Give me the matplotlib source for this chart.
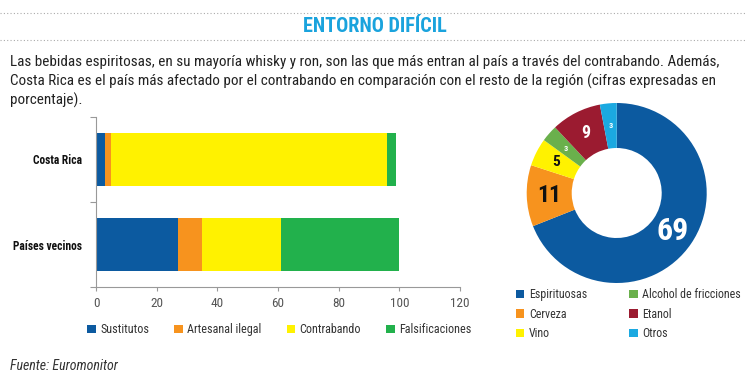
import matplotlib
matplotlib.use("Agg")
import numpy as np
import matplotlib.pyplot as plt
from matplotlib.patches import Patch
from matplotlib.lines import Line2D

W, H = 745, 388
NARROW = ['Roboto Condensed', 'Archivo Narrow', 'DejaVu Sans']

# bar chart data (percent)
countries = ["Costa Rica", "Países vecinos"]
bar_series = ["Sustitutos", "Artesanal ilegal", "Contrabando", "Falsificaciones"]
sustitutos = [3, 27]
artesanal = [2, 8]
contrabando = [91, 26]
falsificaciones = [3, 39]
bar_colors = ["#0c5aa0", "#f7931e", "#fff200", "#22b14c"]
x_ticks = [0, 20, 40, 60, 80, 100, 120]

# donut data (percent)
drink_types = ["Espirituosas", "Cerveza", "Vino", "Alcohol de fricciones", "Etanol", "Otros"]
drink_share = [69, 11, 5, 3, 9, 3]
pie_colors = ["#0c5aa0", "#f7931e", "#fff200", "#6ab04c", "#9b1b30", "#1ba9e1"]
label_colors = ["white", "#111111", "#111111", "white", "white", "white"]
label_sizes = [23, 17, 11, 6, 13, 6]

title = "ENTORNO DIFÍCIL"
intro = [
    "Las bebidas espiritosas, en su mayoría whisky y ron, son las que más entran al país a través del contrabando. Además,",
    "Costa Rica es el país más afectado por el contrabando en comparación con el resto de la región (cifras expresadas en",
    "porcentaje).",
]
source = "Fuente: Euromonitor"


def px(x, y):
    # pixel position (from top-left) -> figure fraction
    return x / W, 1 - y / H


def box(left, top, right, bottom):
    return [left / W, 1 - bottom / H, (right - left) / W, (bottom - top) / H]


plt.rcParams['font.family'] = NARROW
fig = plt.figure(figsize=(W / 100, H / 100), dpi=100)

# header: dotted rules and title
for yy in (13, 40):
    fig.add_artist(Line2D([0.0, 1.0], [1 - yy / H] * 2, transform=fig.transFigure,
                          color="#aaaaaa", lw=0.8, linestyle=(0, (1, 2))))
fig.text(*px(375, 26), title, ha="center", va="center", fontsize=14.6,
         fontweight="bold", color="#1aa3dd")

for i, line in enumerate(intro):
    fig.text(*px(10, 66 + i * 19.5), line, ha="left", va="baseline", fontsize=10.9, color="#222222")

fig.text(*px(10, 366), source, ha="left", va="center", fontsize=10, style="italic", color="#333333")

# stacked bars
ax = fig.add_axes(box(96, 117, 460, 287))
left = [0, 0]
handles = []
for name, vals, col in zip(bar_series, [sustitutos, artesanal, contrabando, falsificaciones], bar_colors):
    ax.barh(range(len(countries)), vals, left=left, height=0.63, color=col, label=name)
    left = [a + b for a, b in zip(left, vals)]
    handles.append(Patch(facecolor=col, label=name))
ax.set_xlim(0, 120)
ax.set_ylim(1.5, -0.5)
ax.set_xticks(x_ticks)
ax.set_yticks([-0.5, 0.5, 1.5])
ax.set_yticklabels([])
ax.set_yticks([0, 1], minor=True)
ax.set_yticklabels(countries, minor=True, fontweight="bold", fontsize=8.3, color="#111111")
ax.tick_params(axis="y", which="minor", length=0, pad=10)
ax.tick_params(axis="y", which="major", length=4, color="#999999")
ax.tick_params(axis="x", length=3, color="#999999", labelcolor="#555555", labelsize=9.5, pad=4)
for s in ("top", "right"):
    ax.spines[s].set_visible(False)
for s in ("left", "bottom"):
    ax.spines[s].set_color("#999999")
    ax.spines[s].set_linewidth(0.8)

ax.legend(handles=handles, ncol=4, loc="center left", bbox_to_anchor=(-0.037, -0.25),
          frameon=False, fontsize=8.7, handlelength=0.7, handleheight=0.7,
          handletextpad=0.35, columnspacing=2.1, labelcolor="#333333", borderaxespad=0)

# donut
cx, cy, r = 616.7, 193, 90
pax = fig.add_axes(box(cx - r, cy - r, cx + r, cy + r))
wedges, _ = pax.pie(drink_share, colors=pie_colors, startangle=90, counterclock=False,
                    radius=1, wedgeprops=dict(width=0.5, linewidth=0))
pax.set_xlim(-1, 1)
pax.set_ylim(-1, 1)
pax.set_aspect("equal")
pax.axis("off")
for w, val, c, s in zip(wedges, drink_share, label_colors, label_sizes):
    ang = np.deg2rad((w.theta1 + w.theta2) / 2)
    pax.text(0.75 * np.cos(ang), 0.75 * np.sin(ang), str(val), ha="center", va="center",
             fontsize=s, fontweight="bold", color=c)

pie_handles = [Patch(facecolor=c, label=n) for n, c in zip(drink_types, pie_colors)]
fig.legend(handles=pie_handles, ncol=2, loc="upper left", bbox_to_anchor=px(516, 288),
           frameon=False, fontsize=8.6, handlelength=0.7, handleheight=0.7,
           handletextpad=0.4, columnspacing=3.5, labelspacing=0.55,
           labelcolor="#333333", borderaxespad=0, borderpad=0)

fig.savefig("out.png", dpi=100)
